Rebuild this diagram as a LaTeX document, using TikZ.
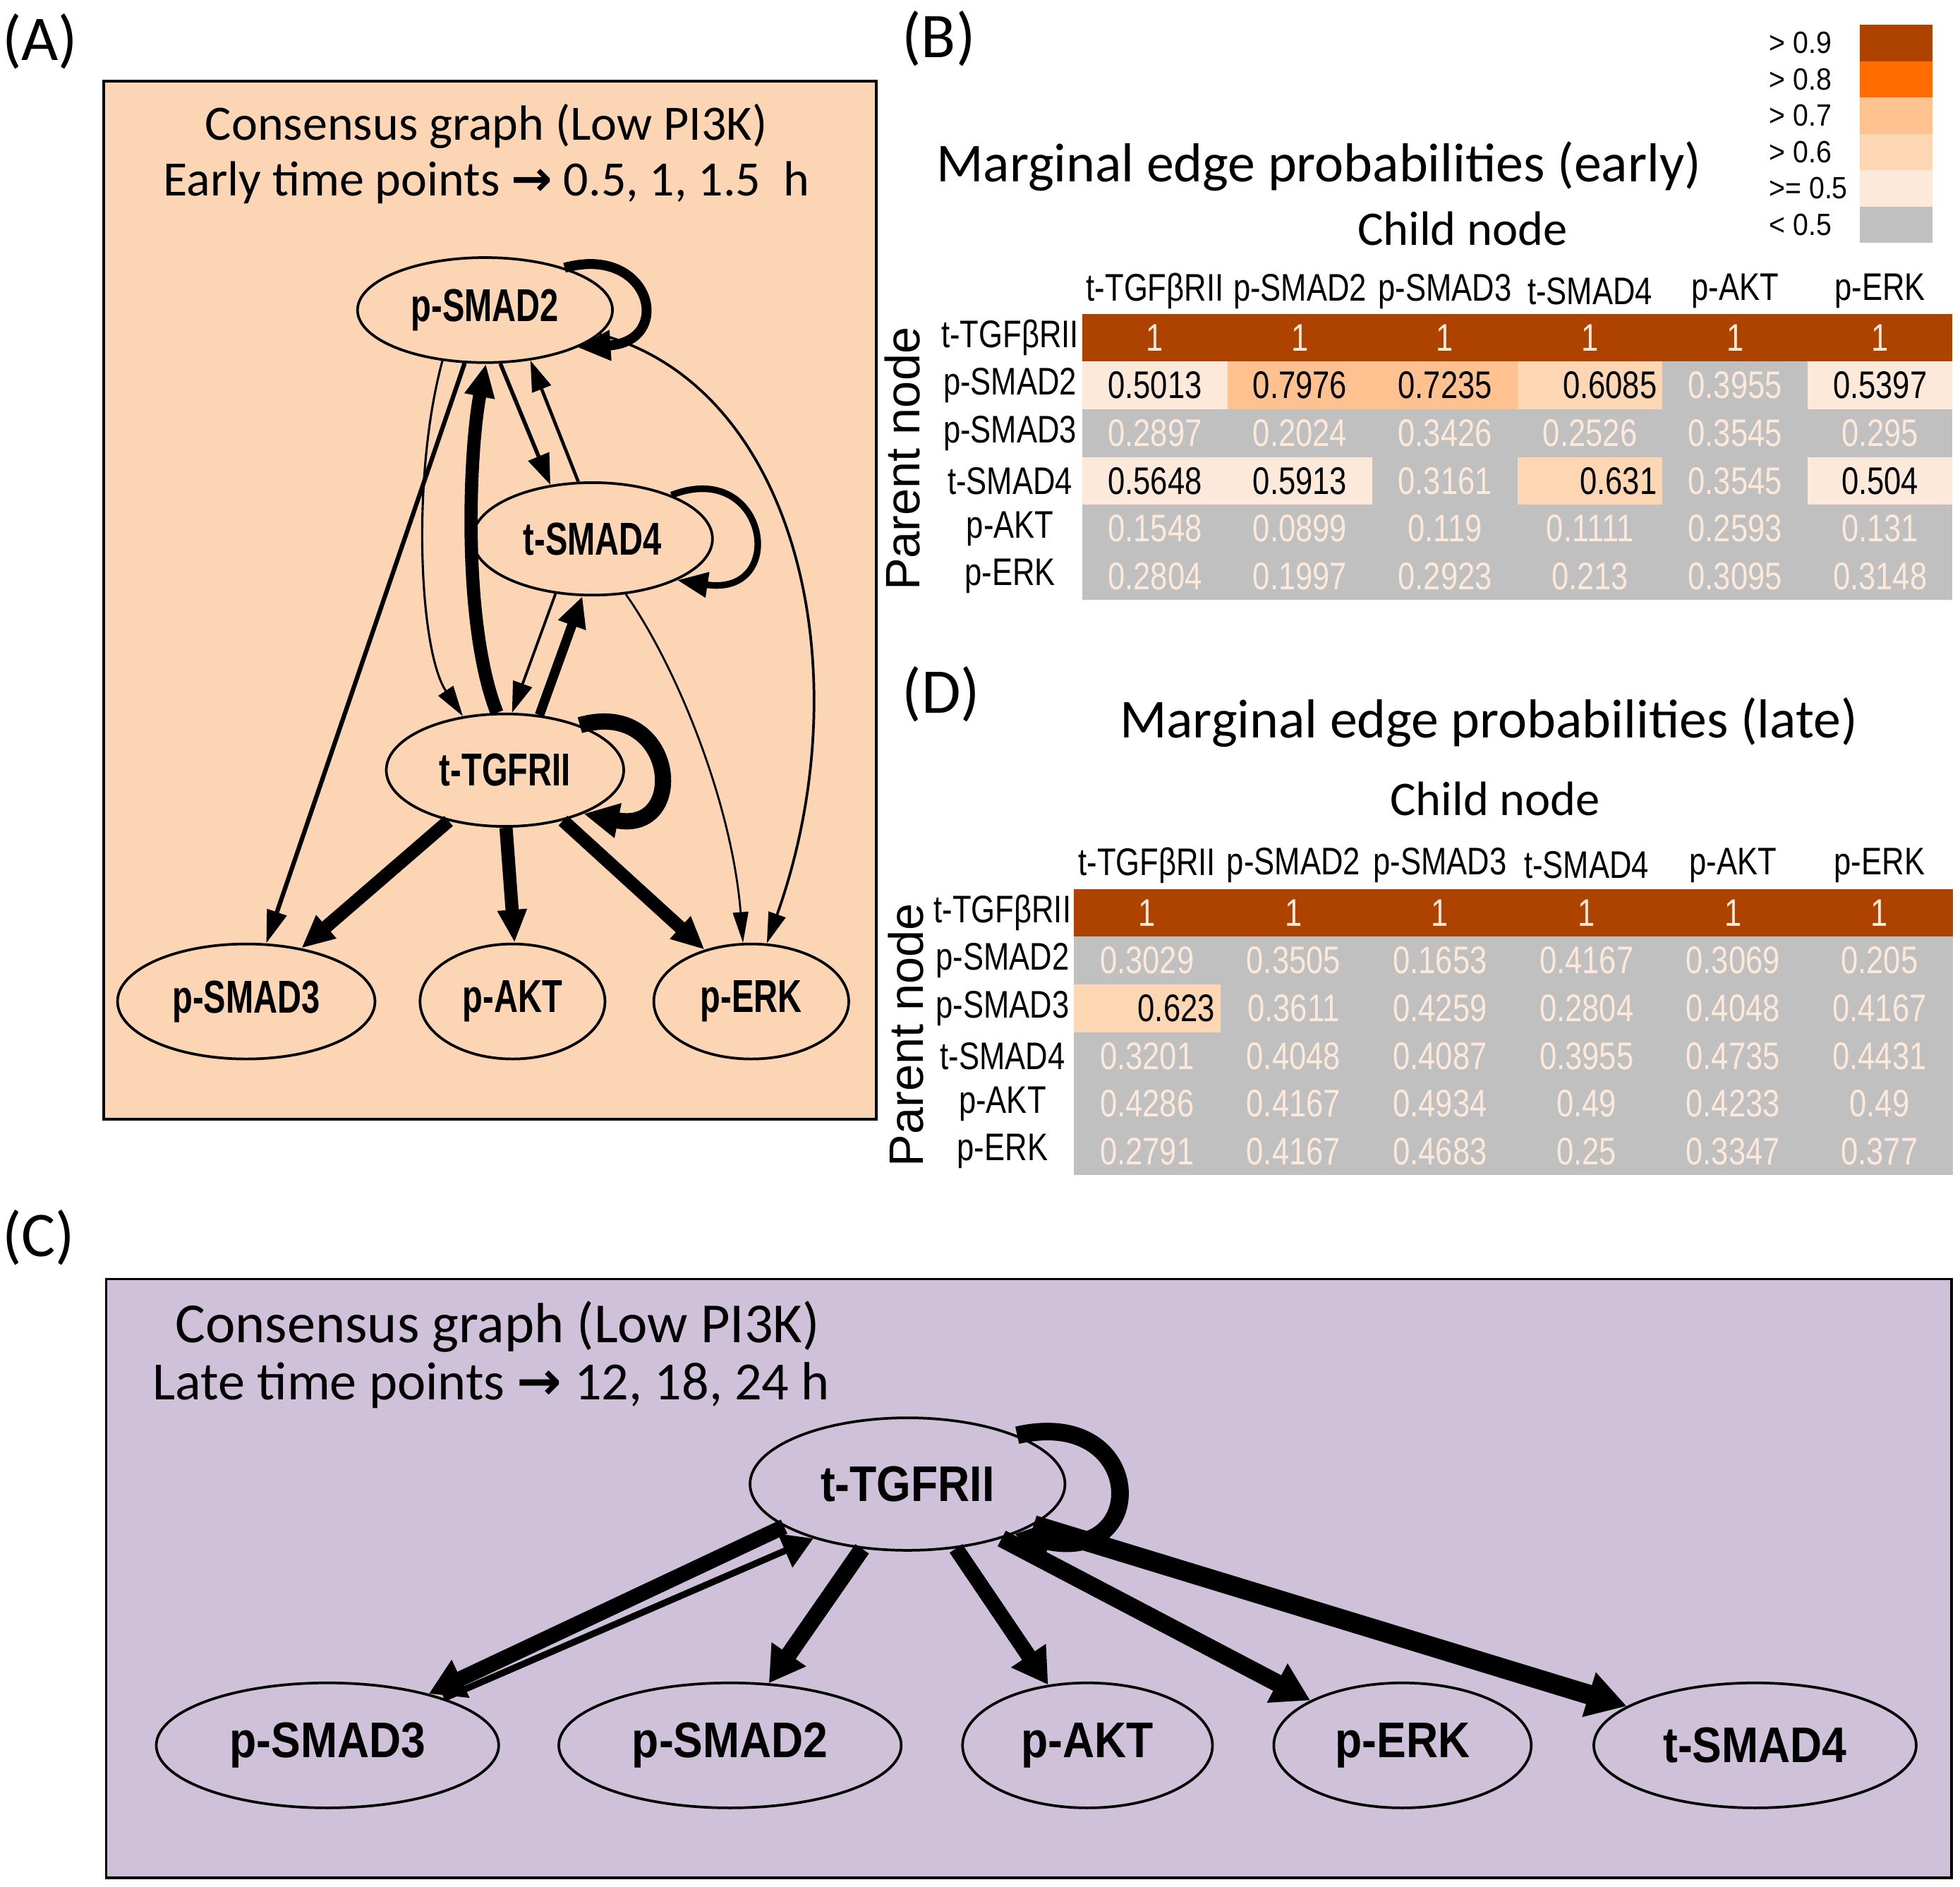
\documentclass[tikz,border=0pt]{standalone}
\usepackage{fontspec}
\setmainfont{Carlito}
\newfontfamily\nodefontA[FakeStretch=0.72]{Liberation Sans}
\newfontfamily\nodefontC[FakeStretch=0.88]{Liberation Sans}
\newfontfamily\tabfont[FakeStretch=0.8]{Liberation Sans}
\newfontfamily\legfont[FakeStretch=0.9]{Liberation Sans}
\newfontfamily\arialfont{Liberation Sans}
\newfontfamily\arrfont{DejaVu Sans}
\usetikzlibrary{arrows.meta,shapes.geometric}
\definecolor{cNine}{HTML}{AE4300}
\definecolor{cEight}{HTML}{FF6D00}
\definecolor{cSeven}{HTML}{FFC18F}
\definecolor{cSix}{HTML}{FDD6B4}
\definecolor{cFive}{HTML}{FDE9D9}
\definecolor{cGray}{HTML}{C0C0C0}
\definecolor{cream}{HTML}{FDE9D9}
\definecolor{panelA}{HTML}{FCD5B5}
\definecolor{panelC}{HTML}{CFC1DA}
\tikzset{
  gnodeA/.style={ellipse, draw, line width=1.2pt, inner sep=0pt,
    font={\nodefontA\bfseries\fontsize{21}{24}\selectfont}},
  gnodeC/.style={ellipse, draw, line width=1.2pt, inner sep=0pt,
    font={\nodefontC\bfseries\fontsize{22.8}{26}\selectfont}},
  ar/.style n args={3}{line width=#1pt, -{Triangle[length=#2pt,width=#3pt]}},
  paneltitle/.style={inner sep=0pt, font={\fontsize{22.5}{26}\selectfont}},
  paneltitleC/.style={inner sep=0pt, anchor=west, font={\fontsize{25.8}{29}\selectfont}},
  paneltitleCb/.style={inner sep=0pt, anchor=west, font={\fontsize{24.5}{29}\selectfont}},
  plabel/.style={inner sep=0pt, font={\fontsize{29}{34}\selectfont}},
  bigtitle/.style={inner sep=0pt, font={\fontsize{25}{30}\selectfont}},
  childlab/.style={inner sep=0pt, font={\fontsize{22}{26}\selectfont}},
  parentlab/.style={inner sep=0pt, rotate=90, font={\arialfont\fontsize{22}{26}\selectfont}},
  thead/.style={inner sep=0pt, font={\tabfont\fontsize{17.5}{20}\selectfont}},
  cellB/.style={rectangle, inner sep=0pt, outer sep=0pt, minimum width=2.32cm,
    minimum height=0.764cm, font={\tabfont\fontsize{17.5}{20}\selectfont}},
  cellD/.style={rectangle, inner sep=0pt, outer sep=0pt, minimum width=2.344cm,
    minimum height=0.764cm, font={\tabfont\fontsize{17.5}{20}\selectfont}},
  lt/.style={text=cream},
  dk/.style={text=black},
  dkrB/.style={text=black, text width=2.14cm, align=right},
  dkrD/.style={text=black, text width=2.17cm, align=right},
  legbox/.style={rectangle, inner sep=0pt, outer sep=0pt, minimum width=1.16cm, minimum height=0.5814cm},
  leglab/.style={inner sep=0pt, anchor=west, font={\legfont\fontsize{14}{16}\selectfont}},
}
\begin{document}
\begin{tikzpicture}[x=0.02cm,y=-0.02cm]
\useasboundingbox (0,0) rectangle (1568,1509);
\fill[white] (0,0) rectangle (1568,1509);

% ---------------- Panel A ----------------
\node[plabel] (labA) at (32,33) {(A)};
\draw[line width=1.2pt, fill=panelA] (83,65) rectangle (701,895);
\node[paneltitle] (tA1) at (389,101) {Consensus graph (Low PI3K)};
\node[paneltitle] (tA2) at (389,146) {Early time points {\arrfont\bfseries →} 0.5, 1, 1.5 \ h};

\node[gnodeA, minimum width=4.08cm, minimum height=1.68cm] (ps2A) at (388,248) {p-SMAD2};
\node[gnodeA, minimum width=3.84cm, minimum height=1.8cm] (s4A) at (474,431) {t-SMAD4};
\node[gnodeA, minimum width=3.8cm, minimum height=1.8cm] (tgfA) at (404,616) {t-TGFRII};
\node[gnodeA, minimum width=4.12cm, minimum height=1.84cm] (ps3A) at (197,801) {p-SMAD3};
\node[gnodeA, minimum width=2.96cm, minimum height=1.84cm] (aktA) at (410,801) {p-AKT};
\node[gnodeA, minimum width=3.12cm, minimum height=1.84cm] (erkA) at (601,801) {p-ERK};

\draw[ar={4.5}{15}{13}] (ps2A.28) .. controls +(69,-19) and +(78,-5) .. (ps2A.-22);
\draw[ar={1.2}{14}{8}] (ps2A.-12) .. controls +(158,42) and +(77,-216) .. (erkA.75);
\draw[ar={1.0}{14}{8}] (ps2A.-130) .. controls +(-25,92) and +(-35,-52) .. (tgfA.128);
\draw[ar={2}{15}{9}] (ps2A.-111) -- (ps3A.71);
\draw[ar={6}{15}{13}] (tgfA.98) .. controls +(-28,-71) and +(-13.5,69) .. (ps2A.-89);
\draw[ar={1.8}{14}{10}] (ps2A.-74) -- (s4A.128);
\draw[ar={1.5}{14}{9}] (s4A.104) -- (ps2A.-48);
\draw[ar={3}{14}{11}] (s4A.29) .. controls +(77,-30) and +(90,14) .. (s4A.-26);
\draw[ar={1.2}{14}{9}] (s4A.-124) -- (tgfA.83);
\draw[ar={4.3}{14}{12.5}] (tgfA.58) -- (s4A.-100);
\draw[ar={0.9}{14}{7}] (s4A.-59) .. controls +(39,55) and +(-9,-114) .. (erkA.98);
\draw[ar={7.4}{16}{15}] (tgfA.31) .. controls +(77,-22) and +(85,17) .. (tgfA.-29);
\draw[ar={6}{15}{13}] (tgfA.-138) -- (ps3A.44);
\draw[ar={6}{15}{12.5}] (tgfA.-89) -- (aktA.88);
\draw[ar={6}{15}{13}] (tgfA.-41) -- (erkA.132);

% ---------------- Panel B ----------------
\node[plabel] (labB) at (751,31) {(B)};
\node[bigtitle] (tB) at (1055,133) {Marginal edge probabilities (early)};
\node[childlab] (chB) at (1170,183) {Child node};
\node[parentlab] (paB) at (722,367) {Parent node};

% legend
\foreach \c/\t [count=\i] in {cNine/{> 0.9},cEight/{> 0.8},cSeven/{> 0.7},cSix/{> 0.6},cFive/{>= 0.5},cGray/{< 0.5}} {
  \node[legbox, fill=\c] (lg\i) at (1517,{19.8+29.07*(\i-0.5)}) {};
  \node[leglab] (ll\i) at (1415,{19.8+29.07*(\i-0.5)}) {\t};
}

% headers
\foreach \h [count=\i] in {t-TGFβRII,p-SMAD2,p-SMAD3,t-SMAD4,p-AKT,p-ERK} {
  \node[thead] (hB\i) at ({866+116*(\i-0.5)},233) {\h};
}
\foreach \h [count=\r] in {t-TGFβRII,p-SMAD2,p-SMAD3,t-SMAD4,p-AKT,p-ERK} {
  \node[thead] (rB\r) at (808,{251+38.17*(\r-0.5)}) {\h};
}
\newcommand\rowB[2]{%
  \foreach \v/\c/\s [count=\i] in {#2} {
    \node[cellB, fill=\c, \s] (cB#1\i) at ({866+116*(\i-0.5)},{251+38.17*(#1-0.5)}) {\v};
  }}
\rowB{1}{1/cNine/lt,1/cNine/lt,1/cNine/lt,1/cNine/lt,1/cNine/lt,1/cNine/lt}
\rowB{2}{0.5013/cFive/dk,0.7976/cSeven/dk,0.7235/cSeven/dk,0.6085/cSix/dkrB,0.3955/cGray/lt,0.5397/cFive/dk}
\rowB{3}{0.2897/cGray/lt,0.2024/cGray/lt,0.3426/cGray/lt,0.2526/cGray/lt,0.3545/cGray/lt,0.295/cGray/lt}
\rowB{4}{0.5648/cFive/dk,0.5913/cFive/dk,0.3161/cGray/lt,0.631/cSix/dkrB,0.3545/cGray/lt,0.504/cFive/dk}
\rowB{5}{0.1548/cGray/lt,0.0899/cGray/lt,0.119/cGray/lt,0.1111/cGray/lt,0.2593/cGray/lt,0.131/cGray/lt}
\rowB{6}{0.2804/cGray/lt,0.1997/cGray/lt,0.2923/cGray/lt,0.213/cGray/lt,0.3095/cGray/lt,0.3148/cGray/lt}

% ---------------- Panel D ----------------
\node[plabel] (labD) at (753,555) {(D)};
\node[bigtitle] (tD) at (1191,578) {Marginal edge probabilities (late)};
\node[childlab] (chD) at (1196,639) {Child node};
\node[parentlab] (paD) at (725,828) {Parent node};
\foreach \h [count=\i] in {t-TGFβRII,p-SMAD2,p-SMAD3,t-SMAD4,p-AKT,p-ERK} {
  \node[thead] (hD\i) at ({859+117.2*(\i-0.5)},692) {\h};
}
\foreach \h [count=\r] in {t-TGFβRII,p-SMAD2,p-SMAD3,t-SMAD4,p-AKT,p-ERK} {
  \node[thead] (rD\r) at (802,{711+38.17*(\r-0.5)}) {\h};
}
\newcommand\rowD[2]{%
  \foreach \v/\c/\s [count=\i] in {#2} {
    \node[cellD, fill=\c, \s] (cD#1\i) at ({859+117.2*(\i-0.5)},{711+38.17*(#1-0.5)}) {\v};
  }}
\rowD{1}{1/cNine/lt,1/cNine/lt,1/cNine/lt,1/cNine/lt,1/cNine/lt,1/cNine/lt}
\rowD{2}{0.3029/cGray/lt,0.3505/cGray/lt,0.1653/cGray/lt,0.4167/cGray/lt,0.3069/cGray/lt,0.205/cGray/lt}
\rowD{3}{0.623/cSix/dkrD,0.3611/cGray/lt,0.4259/cGray/lt,0.2804/cGray/lt,0.4048/cGray/lt,0.4167/cGray/lt}
\rowD{4}{0.3201/cGray/lt,0.4048/cGray/lt,0.4087/cGray/lt,0.3955/cGray/lt,0.4735/cGray/lt,0.4431/cGray/lt}
\rowD{5}{0.4286/cGray/lt,0.4167/cGray/lt,0.4934/cGray/lt,0.49/cGray/lt,0.4233/cGray/lt,0.49/cGray/lt}
\rowD{6}{0.2791/cGray/lt,0.4167/cGray/lt,0.4683/cGray/lt,0.25/cGray/lt,0.3347/cGray/lt,0.377/cGray/lt}

% ---------------- Panel C ----------------
\node[plabel] (labC) at (31,990) {(C)};
\draw[line width=1.2pt, fill=panelC] (85,1023) rectangle (1561,1502);
\node[paneltitleC] (tC1) at (140,1061) {Consensus graph (Low PI3K)};
\node[paneltitleCb] (tC2) at (122,1108) {Late time points {\arrfont\bfseries →} 12, 18, 24 h};

\node[gnodeC, minimum width=5.04cm, minimum height=2.12cm] (tgfC) at (726,1187) {t-TGFRII};
\node[gnodeC, minimum width=5.48cm, minimum height=2.0cm] (ps3C) at (262,1396) {p-SMAD3};
\node[gnodeC, minimum width=5.48cm, minimum height=2.0cm] (ps2C) at (584,1396) {p-SMAD2};
\node[gnodeC, minimum width=4.0cm, minimum height=2.0cm] (aktC) at (870,1396) {p-AKT};
\node[gnodeC, minimum width=4.12cm, minimum height=2.0cm] (erkC) at (1122,1396) {p-ERK};
\node[gnodeC, minimum width=5.16cm, minimum height=2.0cm] (s4C) at (1404,1396) {t-SMAD4};

\draw[ar={8}{16}{18}] (tgfC.24) .. controls +(102.5,-23.5) and +(110,24) .. (tgfC.-25);
\draw[ar={7}{16}{18}] (tgfC.-161) -- (ps3C.27);
\draw[ar={3}{14}{16}] (ps3C.22) -- (tgfC.-150);
\draw[ar={7.5}{16}{18}] (tgfC.-125) -- (ps2C.58);
\draw[ar={7}{16}{18}] (tgfC.-53) -- (aktC.123);
\draw[ar={8}{17}{19}] (tgfC.-30) -- (erkC.154);
\draw[ar={9}{18}{20}] (tgfC.-18) -- (s4C.163);
\end{tikzpicture}
\end{document}
